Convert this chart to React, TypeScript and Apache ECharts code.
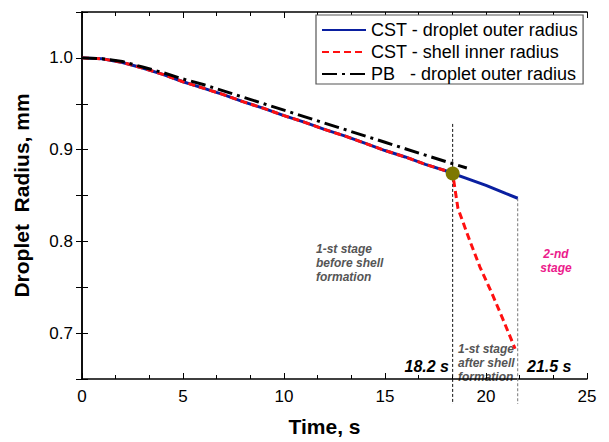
import React, { useEffect, useRef } from "react";
import * as echarts from "echarts";

// Time (s) for the common stage (before shell formation)
const timeMain = [0, 1, 2, 3, 4, 5, 6, 7, 8, 9, 10, 11, 12, 13, 14, 15, 16, 17, 18, 18.35];
const cstOuterMain = [1.0, 0.999, 0.995, 0.989, 0.982, 0.974, 0.967, 0.96, 0.952, 0.945, 0.937, 0.93, 0.922, 0.915, 0.907, 0.899, 0.892, 0.884, 0.877, 0.874];
// CST droplet outer radius after shell formation
const timeAfter = [18.35, 19, 20, 21, 21.57];
const cstOuterAfter = [0.874, 0.869, 0.861, 0.852, 0.847];
// CST shell inner radius after shell formation
const timeShell = [18.35, 18.61, 19.21, 19.7, 20.3, 20.84, 21.44];
const shellInner = [0.874, 0.836, 0.8, 0.772, 0.743, 0.715, 0.683];
// PB droplet outer radius
const timePB = [0, 1, 2, 3, 4, 5, 6, 7, 8, 9, 10, 11, 12, 13, 14, 15, 16, 17, 18, 19.05];
const pbOuter = [1.0, 0.999, 0.996, 0.99, 0.984, 0.977, 0.971, 0.964, 0.957, 0.95, 0.943, 0.936, 0.929, 0.922, 0.915, 0.908, 0.901, 0.894, 0.887, 0.88];
// shell formation point
const shellPoint = [18.35, 0.874];
// stage boundaries: [time, radius at top of the marker line]
const boundaries = [
  [18.35, 0.928],
  [21.57, 0.847],
];
const xTicks = [0, 5, 10, 15, 20, 25];
const yTicks = [0.7, 0.8, 0.9, 1.0];

const seriesNames = [
  "CST - droplet outer radius",
  "CST - shell inner radius",
  "PB   - droplet outer radius",
];

const FONT = 'Arial, "Liberation Sans", Helvetica, sans-serif';

function zip(xs: number[], ys: number[]) {
  return xs.map((x, i) => [x, ys[i]]);
}

export default function App() {
  const ref = useRef<HTMLDivElement>(null);
  useEffect(() => {
    if (!ref.current) return;
    const chart = echarts.init(ref.current, null, { renderer: "svg" });
    const blueData = zip(timeMain, cstOuterMain).concat(zip(timeAfter, cstOuterAfter).slice(1));
    const redData = zip(timeMain, cstOuterMain).concat(zip(timeShell, shellInner).slice(1));
    const pbData = zip(timePB, pbOuter);

    const axisLine = { show: true, lineStyle: { color: "#000", width: 1.5 } };
    const option: any = {
      animation: false,
      backgroundColor: "#fff",
      grid: { left: 82, right: 22, top: 12, bottom: 54, containLabel: false },
      legend: {
        data: seriesNames,
        orient: "vertical",
        left: 316,
        top: 15,
        itemWidth: 44,
        itemHeight: 14,
        itemGap: 4,
        padding: [6, 5, 1, 5],
        borderColor: "#555",
        borderWidth: 1.2,
        backgroundColor: "#fff",
        itemStyle: { opacity: 0 },
        textStyle: { fontSize: 18, fontFamily: FONT, color: "#000" },
      },
      xAxis: [
        {
          type: "value",
          min: 0,
          max: 25,
          interval: 5,
          name: "Time, s",
          nameLocation: "middle",
          nameGap: 37,
          nameTextStyle: {
            fontSize: 21,
            fontWeight: "bold",
            fontFamily: FONT,
            color: "#000",
            padding: [0, 20, 0, 0],
          },
          axisLine,
          axisTick: { show: true, inside: true, length: 6, lineStyle: { color: "#000" } },
          minorTick: { show: true, splitNumber: 3, length: 4, lineStyle: { color: "#000" } },
          axisLabel: {
            fontSize: 17,
            fontFamily: FONT,
            color: "#000",
            margin: 9,
            formatter: (v: number) => (xTicks.includes(v) ? String(v) : ""),
          },
          splitLine: { show: false },
        },
        {
          type: "value",
          position: "top",
          min: 0,
          max: 25,
          interval: 5,
          axisLine,
          axisTick: { show: true, inside: true, length: 6, lineStyle: { color: "#000" } },
          minorTick: { show: true, splitNumber: 3, length: 4, lineStyle: { color: "#000" } },
          axisLabel: { show: false },
          splitLine: { show: false },
        },
      ],
      yAxis: [
        {
          type: "value",
          min: 0.65,
          max: 1.05,
          interval: 0.05,
          name: "Droplet  Radius, mm",
          nameLocation: "middle",
          nameGap: 50,
          nameTextStyle: { fontSize: 21, fontWeight: "bold", fontFamily: FONT, color: "#000" },
          axisLine,
          axisTick: { show: true, inside: true, length: 6, lineStyle: { color: "#000" } },
          axisLabel: {
            fontSize: 17,
            fontFamily: FONT,
            color: "#000",
            margin: 9,
            formatter: (v: number) => {
              const r = Math.round(v * 100) / 100;
              return yTicks.some((t) => Math.abs(t - r) < 1e-6) ? r.toFixed(1) : "";
            },
          },
          splitLine: { show: false },
        },
        {
          type: "value",
          position: "right",
          min: 0.65,
          max: 1.05,
          interval: 0.05,
          axisLine,
          axisTick: { show: true, inside: true, length: 6, lineStyle: { color: "#000" } },
          axisLabel: { show: false },
          splitLine: { show: false },
        },
      ],
      series: [
        {
          name: seriesNames[0],
          type: "line",
          data: blueData,
          symbol: "none",
          lineStyle: { color: "#0a1fa0", width: 3, type: "solid" },
          itemStyle: { color: "#0a1fa0" },
          z: 2,
        },
        {
          name: seriesNames[1],
          type: "line",
          data: redData,
          symbol: "none",
          lineStyle: { color: "#ff1010", width: 3, type: [7, 4] },
          itemStyle: { color: "#ff1010" },
          z: 3,
        },
        {
          name: seriesNames[2],
          type: "line",
          data: pbData,
          symbol: "none",
          lineStyle: { color: "#000", width: 3, type: [15, 5, 3, 5] },
          itemStyle: { color: "#000" },
          z: 4,
        },
        {
          name: "boundaries",
          type: "custom",
          data: boundaries,
          z: 1,
          renderItem: (params: any, api: any) => {
            const x = api.value(0);
            const yTop = api.value(1);
            const p1 = api.coord([x, yTop]);
            const p0 = api.coord([x, 0.65]);
            const dark = params.dataIndex === 0;
            return {
              type: "line",
              shape: { x1: p1[0], y1: p1[1], x2: p1[0], y2: p0[1] + 25 },
              style: {
                stroke: dark ? "#111" : "#777",
                lineWidth: 1,
                lineDash: [3, 2],
              },
            };
          },
        },
        {
          name: "shell formation",
          type: "scatter",
          data: [shellPoint],
          symbol: "circle",
          symbolSize: 14,
          itemStyle: { color: "#7d7800", opacity: 1 },
          z: 5,
        },
      ],
      graphic: [
        {
          type: "text",
          left: 316,
          top: 242,
          style: {
            text: "1-st stage\nbefore shell\nformation",
            font: `italic bold 12px ${FONT}`,
            fill: "#555",
            lineHeight: 14,
          },
        },
        {
          type: "text",
          left: 458,
          top: 342,
          style: {
            text: "1-st stage\nafter shell\nformation",
            font: `italic bold 12px ${FONT}`,
            fill: "#555",
            lineHeight: 14,
          },
        },
        {
          type: "text",
          x: 556,
          y: 247,
          style: {
            text: "2-nd\nstage",
            font: `italic bold 12px ${FONT}`,
            fill: "#ec1a8c",
            lineHeight: 14,
            align: "center",
          },
        },
        {
          type: "text",
          x: 449,
          y: 358,
          style: {
            text: "18.2 s",
            font: `italic bold 16px ${FONT}`,
            fill: "#000",
            align: "right",
          },
        },
        {
          type: "text",
          x: 527,
          y: 358,
          style: {
            text: "21.5 s",
            font: `italic bold 16px ${FONT}`,
            fill: "#000",
            align: "left",
          },
        },
      ],
    };
    chart.setOption(option);
    return () => chart.dispose();
  }, []);
  return <div ref={ref} style={{ width: 609, height: 442, position: "absolute", left: 0, top: 0 }} />;
}
